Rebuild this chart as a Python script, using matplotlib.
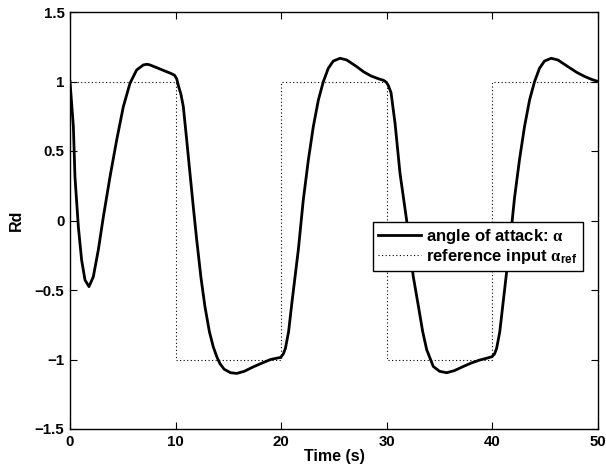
import matplotlib
matplotlib.use("Agg")
import matplotlib.pyplot as plt

plt.rcParams['font.family'] = ['Liberation Sans', 'DejaVu Sans']
plt.rcParams['font.weight'] = 'bold'
plt.rcParams['mathtext.fontset'] = 'custom'
plt.rcParams['mathtext.rm'] = 'Liberation Serif'
plt.rcParams['mathtext.it'] = 'Liberation Serif'
plt.rcParams['mathtext.bf'] = 'Liberation Sans:bold'

# angle of attack response
t_alpha = [0, 0.32, 0.47, 0.79, 1.1, 1.42, 1.8, 2.21, 2.68, 3.16, 3.79, 4.42, 5.05, 5.68,
           6.31, 6.94, 7.3, 7.58, 8.36, 9.0, 9.5, 9.9, 10.1, 10.3, 10.5, 10.73, 11.05, 11.36,
           11.7, 12.0, 12.4, 12.78, 13.2, 13.57, 13.9, 14.2, 14.6, 15.2, 15.8, 16.5, 17.3,
           18.2, 19.0, 19.6, 19.95, 20.2, 20.4, 20.7, 21.0, 21.62, 22.09, 22.57, 23.04, 23.52,
           23.99, 24.46, 24.93, 25.57, 26.2, 27.15, 27.8, 28.5, 29.2, 29.7, 29.95, 30.15,
           30.4, 30.78, 31.25, 31.9, 32.5, 33.0, 33.4, 33.78, 34.4, 35.0, 35.67, 36.4, 37.25,
           38.0, 38.8, 39.5, 39.95, 40.2, 40.4, 40.7, 41.0, 41.62, 42.09, 42.57, 43.04, 43.52,
           43.99, 44.46, 44.93, 45.57, 46.2, 47.15, 48.0, 48.77, 49.4, 50.0]
alpha = [1.0, 0.675, 0.315, -0.045, -0.284, -0.428, -0.476, -0.404, -0.212, 0.027, 0.315, 0.579, 0.819, 0.987,
         1.083, 1.119, 1.124, 1.119, 1.095, 1.075, 1.06, 1.045, 1.02, 0.96, 0.91, 0.82, 0.58, 0.34,
         0.08, -0.14, -0.41, -0.62, -0.80, -0.91, -0.98, -1.03, -1.07, -1.095, -1.10, -1.085, -1.055,
         -1.025, -1.0, -0.99, -0.985, -0.96, -0.92, -0.80, -0.60, -0.212, 0.147, 0.435, 0.675, 0.867,
         0.999, 1.095, 1.147, 1.167, 1.155, 1.107, 1.07, 1.04, 1.02, 1.008, 0.995, 0.97,
         0.92, 0.70, 0.34, -0.01, -0.40, -0.62, -0.80, -0.93, -1.05, -1.085, -1.095, -1.08, -1.05,
         -1.025, -1.004, -0.99, -0.98, -0.96, -0.92, -0.80, -0.60, -0.19, 0.16, 0.44, 0.675, 0.867,
         0.999, 1.095, 1.147, 1.167, 1.155, 1.107, 1.065, 1.035, 1.015, 1.0]

# reference input
t_ref = [0, 10, 20, 30, 40, 50]
alpha_ref = [1, -1, 1, -1, 1, 1]

xticks = [0, 10, 20, 30, 40, 50]
yticks = [-1.5, -1, -0.5, 0, 0.5, 1, 1.5]
yticklabels = ['\u22121.5', '\u22121', '\u22120.5', '0', '0.5', '1', '1.5']

fig = plt.figure(figsize=(6.06, 4.72), dpi=100)
ax = fig.add_axes([70/606, 43/472, 528/606, 417/472])

ax.plot(t_alpha, alpha, color='black', lw=2.0, solid_joinstyle='round',
        label=r'angle of attack: $\mathrm{\alpha}$')
ax.plot(t_ref, alpha_ref, color='black', lw=0.8, linestyle=(0, (1, 2.2)),
        drawstyle='steps-post', label=r'reference input $\mathrm{\alpha}_{\mathbf{ref}}$')

ax.set_xlim(0, 50)
ax.set_ylim(-1.5, 1.5)
ax.set_xticks(xticks)
ax.set_xticklabels([str(v) for v in xticks])
ax.set_yticks(yticks)
ax.set_yticklabels(yticklabels)
ax.tick_params(direction='in', length=5, width=0.8, top=True, right=True,
               labelsize=10.8, pad=4)
for lab in ax.get_xticklabels() + ax.get_yticklabels():
    lab.set_fontweight('bold')
for sp in ax.spines.values():
    sp.set_linewidth(1.0)

ax.set_xlabel('Time (s)', fontsize=11.5, fontweight='bold', labelpad=0)
ax.set_ylabel('Rd', fontsize=11.5, fontweight='bold', labelpad=8)

leg = ax.legend(loc='upper left', bbox_to_anchor=(0.574, 0.497), borderaxespad=0,
                fancybox=False, framealpha=1, edgecolor='black',
                handlelength=2.6, handletextpad=0.3, borderpad=0.3, labelspacing=0.05,
                prop={'weight': 'bold', 'size': 12})
leg.get_frame().set_linewidth(1.0)

fig.savefig('out.png', dpi=100)
